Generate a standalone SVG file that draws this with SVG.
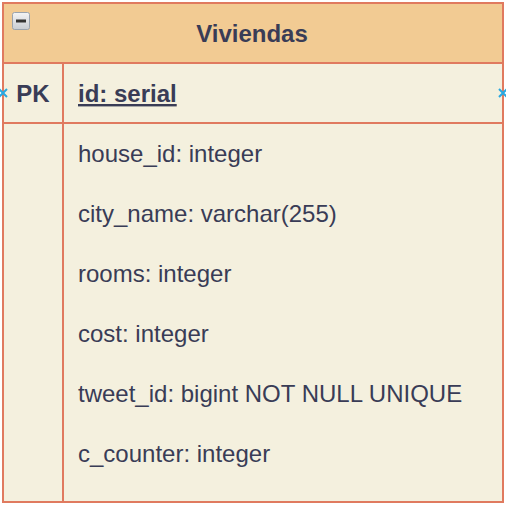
<svg xmlns="http://www.w3.org/2000/svg" width="506" height="506" viewBox="0 0 506 506">
<defs>
<linearGradient id="btn" x1="0" y1="0" x2="0" y2="1"><stop offset="0" stop-color="#f4f4f4"/><stop offset="1" stop-color="#c8ccd2"/></linearGradient>
</defs>
<style>
.ln{stroke:#E07A5F;stroke-width:2;fill:none}
.t{font-family:"Liberation Sans",Arial,sans-serif;font-size:24px;fill:#393C56}
.b{font-weight:bold}
.x{stroke:#29A8E0;stroke-width:2}
</style>
<g id="table-viviendas">
<rect x="3" y="3" width="500" height="499" fill="#F4F0DE"/>
<rect x="3" y="3" width="500" height="60" fill="#F2CB93"/>
<rect class="ln" x="3" y="3" width="500" height="499"/>
<line class="ln" x1="3" y1="63" x2="503" y2="63"/>
<line class="ln" x1="3" y1="123" x2="503" y2="123"/>
<line class="ln" x1="63" y1="63" x2="63" y2="502"/>
<rect x="12.5" y="12.5" width="17" height="17" rx="2" fill="url(#btn)" stroke="#9aa3ad" stroke-width="1"/>
<line x1="16" y1="21" x2="26" y2="21" stroke="#333" stroke-width="3"/>
<text class="t b" x="252" y="42" text-anchor="middle">Viviendas</text>
<text class="t b" x="33" y="102" text-anchor="middle">PK</text>
<text class="t b" x="78" y="102" text-decoration="underline">id: serial</text>
<text class="t" x="78" y="162">house_id: integer</text>
<text class="t" x="78" y="222">city_name: varchar(255)</text>
<text class="t" x="78" y="282">rooms: integer</text>
<text class="t" x="78" y="342">cost: integer</text>
<text class="t" x="78" y="402">tweet_id: bigint NOT NULL UNIQUE</text>
<text class="t" x="78" y="462">c_counter: integer</text>
</g>
<g id="connectors">
<path class="x" d="M-1 89l8 8M7 89l-8 8"/>
<path class="x" d="M499 89l8 8M507 89l-8 8"/>
</g>
</svg>
